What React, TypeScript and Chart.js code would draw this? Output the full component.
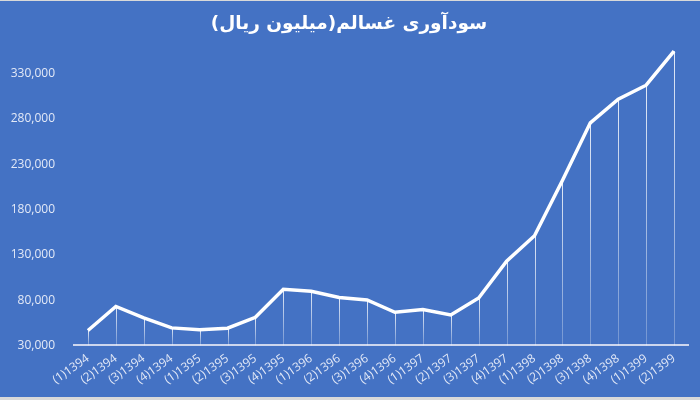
import { useEffect, useRef } from "react"
import { Chart, registerables } from "chart.js"

Chart.register(...registerables)

// داده‌ها
const quarters = [
  "(1)1394", "(2)1394", "(3)1394", "(4)1394",
  "(1)1395", "(2)1395", "(3)1395", "(4)1395",
  "(1)1396", "(2)1396", "(3)1396", "(4)1396",
  "(1)1397", "(2)1397", "(3)1397", "(4)1397",
  "(1)1398", "(2)1398", "(3)1398", "(4)1398",
  "(1)1399", "(2)1399",
]

const profit = [
  46500, 73000, 60400, 49400,
  47200, 49000, 61000, 92000,
  89700, 83000, 80200, 66600,
  69600, 63700, 82400, 123000,
  151000, 212000, 275500, 301500,
  317000, 354500,
]

const yTicks = [30000, 80000, 130000, 180000, 230000, 280000, 330000]

const chartTitle = "سودآوری غسالم(میلیون ریال)"

// خطوط عمودی از هر نقطه تا محور افقی
const dropLines = {
  id: "dropLines",
  beforeDatasetsDraw(chart: Chart) {
    const { ctx, chartArea } = chart
    const meta = chart.getDatasetMeta(0)
    ctx.save()
    ctx.lineWidth = 1
    meta.data.forEach((pt: any) => {
      const grad = ctx.createLinearGradient(0, pt.y, 0, chartArea.bottom)
      grad.addColorStop(0, "rgba(255,255,255,0.85)")
      grad.addColorStop(1, "rgba(255,255,255,0.25)")
      ctx.strokeStyle = grad
      ctx.beginPath()
      ctx.moveTo(Math.round(pt.x) + 0.5, pt.y)
      ctx.lineTo(Math.round(pt.x) + 0.5, chartArea.bottom)
      ctx.stroke()
    })
    ctx.restore()
  },
}

export default function App() {
  const chartRef = useRef<HTMLCanvasElement>(null)
  const chartInstance = useRef<Chart | null>(null)

  useEffect(() => {
    if (!chartRef.current) return
    if (chartInstance.current) {
      chartInstance.current.destroy()
    }
    const ctx = chartRef.current.getContext("2d")
    if (ctx) {
      chartInstance.current = new Chart(ctx, {
        type: "line",
        data: {
          labels: quarters,
          datasets: [
            {
              data: profit,
              borderColor: "#ffffff",
              borderWidth: 3.5,
              pointRadius: 0,
              tension: 0,
              fill: false,
            },
          ],
        },
        options: {
          responsive: false,
          animation: false,
          layout: { padding: { left: 10, right: 12, top: 0, bottom: 4 } },
          plugins: {
            legend: { display: false },
            tooltip: { enabled: false },
            title: {
              display: true,
              text: chartTitle + "\u200F",
              color: "#ffffff",
              font: { family: "'DejaVu Sans'", size: 18.5, weight: "bold" },
              padding: { top: 12, bottom: 11 },
            },
          },
          scales: {
            x: {
              offset: true,
              grid: { display: false, drawTicks: false },
              border: { display: true, color: "#cdd6ee", width: 2 },
              afterFit: (scale: any) => {
                scale.paddingLeft = 0
                scale.paddingRight = 0
              },
              ticks: {
                color: "#e3e9f7",
                font: { family: "'Open Sans'", size: 12 },
                maxRotation: 35,
                minRotation: 35,
                autoSkip: false,
                padding: 6,
              },
            },
            y: {
              min: 30000,
              max: 360000,
              grid: { display: false, drawTicks: false },
              border: { display: false },
              afterBuildTicks: (scale: any) => {
                scale.ticks = yTicks.map((v) => ({ value: v }))
              },
              afterFit: (scale: any) => {
                scale.width = 64
              },
              ticks: {
                color: "#e3e9f7",
                font: { family: "'Open Sans'", size: 12 },
                padding: 19,
                callback: (v: any) => Number(v).toLocaleString("en-US"),
              },
            },
          },
        },
        plugins: [dropLines],
      })
    }
    return () => {
      if (chartInstance.current) {
        chartInstance.current.destroy()
        chartInstance.current = null
      }
    }
  }, [])

  return (
    <div
      style={{
        position: "absolute",
        left: 0,
        top: 0,
        width: 700,
        height: 400,
        background: "#4472C4",
        borderTop: "1px solid #d9d9d9",
        borderBottom: "3px solid #d9d9d9",
        boxSizing: "border-box",
      }}
    >
      <canvas ref={chartRef} width={700} height={396} />
    </div>
  )
}
